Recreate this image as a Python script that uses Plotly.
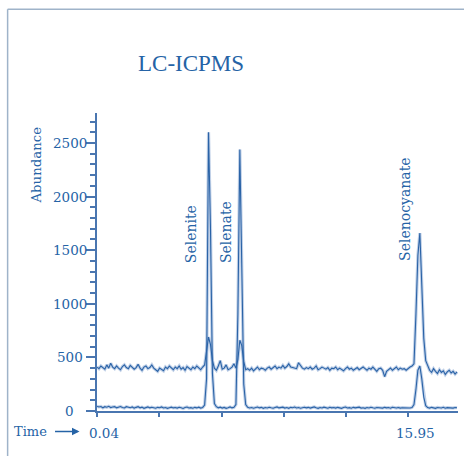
import numpy as np
import plotly.graph_objects as go

# Sampling times (min): 0.04 + 0.1*i, i = 0..184
time = np.round(0.04 + 0.1 * np.arange(185), 2)

# Upper trace (baseline ~400)
upper = [
    410, 395, 420, 405, 390, 430, 400, 445, 410, 395,
    420, 400, 385, 415, 430, 405, 395, 425, 410, 390,
    405, 435, 400, 380, 410, 420, 395, 405, 430, 400,
    385, 370, 400, 390, 375, 410, 395, 420, 400, 385,
    410, 395, 420, 390, 405, 380, 415, 400, 385, 410,
    395, 420, 400, 385, 410,
    430, 560, 690, 620, 470, 400,
    380, 420, 470, 390, 400, 430, 385, 395, 410, 440, 400,
    480, 660, 610, 460, 385,
    395, 380, 400, 375, 390, 410, 385, 400, 395, 380,
    400, 410, 390, 405, 420, 395, 410, 400, 425, 400,
    415, 440, 410, 405, 400, 395, 450, 420, 400, 390,
    405, 395, 410, 390, 400, 420, 385, 395, 410, 400,
    390, 405, 380, 400, 395, 410, 385, 400, 390, 375,
    395, 410, 390, 400, 380, 395, 405, 385, 400, 410,
    395, 380, 400, 390, 410, 385, 370, 395, 400, 380,
    320, 370, 390, 400, 380, 395, 410, 385, 400, 390,
    395, 380, 400, 410, 420,
    440, 900, 1450, 1660, 1200, 680, 470, 420,
    380, 360, 395, 370, 350, 385, 360, 375, 340, 365,
    380, 355, 370, 345, 365,
]

# Lower trace (baseline ~30)
lower = [
    45, 38, 42, 30, 40, 35, 44, 32, 38, 41,
    30, 36, 42, 33, 28, 40, 35, 31, 38, 27,
    34, 40, 30, 36, 25, 33, 38, 29, 35, 31,
    26, 34, 30, 38, 28, 33, 25, 31, 36, 29,
    33, 27, 35, 30, 24, 32, 37, 28, 31, 26,
    34, 29, 36, 27, 33,
    55, 300, 2600, 1700, 350, 70,
    40, 30, 36, 27, 33, 25, 31, 38, 29, 34,
    60, 900, 2440, 1300, 250, 60,
    35, 28, 33, 26, 31, 37, 29, 34, 25, 32,
    28, 35, 30, 26, 33, 38, 29, 31, 36, 27,
    32, 25, 34, 30, 37, 28, 33, 26, 31, 35,
    29, 34, 27, 32, 38, 30, 25, 33, 28, 36,
    31, 26, 35, 29, 33, 27, 34, 30, 25, 32,
    37, 28, 31, 26, 34, 29, 33, 36, 27, 30,
    25, 32, 28, 35, 30, 26, 33, 29, 31, 27,
    34, 29, 32, 26, 35, 30, 28, 33, 27, 31,
    29, 34, 30, 28, 33,
    60, 200, 380, 420, 300, 130, 50,
    32, 27, 34, 29, 25, 33, 30, 28, 35, 26,
    31, 29, 34, 27, 32, 30,
]

x_tick_vals = [0.04, 3.222, 6.404, 9.586, 12.768, 15.95]
x_tick_text = ["0.04", "", "", "", "", "15.95"]
y_tick_vals = [0, 500, 1000, 1500, 2000, 2500]
y_tick_text = ["0", "500", "1000", "1500", "2000", "2500"]

peak_names = ["Selenite", "Selenate", "Selenocyanate"]

BLUE = "#2a63a7"
TXT = "#2563a6"
LIGHT = "rgba(140,170,212,0.55)"
AX = "#4a76b0"
SERIF = "DejaVu Serif"

fig = go.Figure()
for ys in (upper, lower):
    fig.add_trace(go.Scatter(x=time, y=ys, mode="lines",
                             line=dict(color=LIGHT, width=3.2),
                             hoverinfo="skip", showlegend=False))
for ys in (upper, lower):
    fig.add_trace(go.Scatter(x=time, y=ys, mode="lines",
                             line=dict(color=BLUE, width=1.1),
                             showlegend=False))

W, H = 464, 456
L, R, T, B = 96.5, 6, 113, 44.5
pw, ph = W - L - R, H - T - B


def px(xp):
    return (xp - L) / pw


def py(yp):
    return (H - B - yp) / ph


fig.update_layout(
    width=W, height=H,
    margin=dict(l=L, r=R, t=T, b=B),
    paper_bgcolor="white", plot_bgcolor="white",
    font=dict(family=SERIF, color=TXT, size=13.5),
    showlegend=False,
)
fig.update_xaxes(
    range=[0.04, 18.49], showgrid=False, zeroline=False,
    showline=True, linecolor=AX, linewidth=2,
    ticks="outside", ticklen=4, tickwidth=2, tickcolor=AX,
    tickvals=x_tick_vals, ticktext=x_tick_text,
    tickfont=dict(family=SERIF, color=TXT, size=13.5),
    ticklabelshift=7, ticklabelstandoff=5,
)
fig.update_yaxes(
    range=[0, 2780], showgrid=False, zeroline=False,
    showline=True, linecolor=AX, linewidth=2,
    ticks="outside", ticklen=9, tickwidth=2, tickcolor=AX,
    tickvals=y_tick_vals, showticklabels=False,
    minor=dict(dtick=100, ticks="outside", ticklen=5, tickwidth=2, tickcolor=AX),
)

ann = []
# y tick labels, centred as in the original
for v, t in zip(y_tick_vals, y_tick_text):
    ann.append(dict(text=t, x=px(69), y=v, xref="paper", yref="y",
                    xanchor="center", yanchor="middle", showarrow=False,
                    font=dict(family=SERIF, size=13.5, color=TXT)))
ann.append(dict(text="LC-ICPMS", x=px(135.7), y=py(63), xref="paper", yref="paper",
                xanchor="left", yanchor="middle", showarrow=False,
                font=dict(family="Liberation Serif", size=23, color=TXT)))
ann.append(dict(text="Abundance", x=px(36), y=py(165), xref="paper", yref="paper",
                xanchor="center", yanchor="middle", textangle=-90, showarrow=False,
                font=dict(family=SERIF, size=13.3, color=TXT)))
ann.append(dict(text="Time", x=px(29.5), y=py(432), xref="paper", yref="paper",
                xanchor="center", yanchor="middle", showarrow=False,
                font=dict(family=SERIF, size=13, color=TXT)))
ann.append(dict(text="", x=px(79), y=py(432), xref="paper", yref="paper",
                ax=-26, ay=0, showarrow=True, arrowhead=2, arrowsize=1,
                arrowwidth=1.5, arrowcolor=TXT))
label_pos = [(190, 234), (225, 232), (405, 210)]
for name, (lx, ly) in zip(peak_names, label_pos):
    ann.append(dict(text=name, x=px(lx), y=py(ly), xref="paper", yref="paper",
                    xanchor="center", yanchor="middle", textangle=-90, showarrow=False,
                    font=dict(family=SERIF, size=14, color=TXT)))
fig.update_layout(annotations=ann)

FRAME = "#9fb3c9"
fig.add_shape(type="line", xref="paper", yref="paper",
              x0=px(7), x1=px(470), y0=py(9), y1=py(9),
              line=dict(color=FRAME, width=1.5))
fig.add_shape(type="line", xref="paper", yref="paper",
              x0=px(7), x1=px(7), y0=py(9), y1=py(470),
              line=dict(color=FRAME, width=1.5))

fig.write_html("out.html", config={"displayModeBar": False},
               post_script="document.body.style.margin='0';document.body.style.overflow='hidden';")
